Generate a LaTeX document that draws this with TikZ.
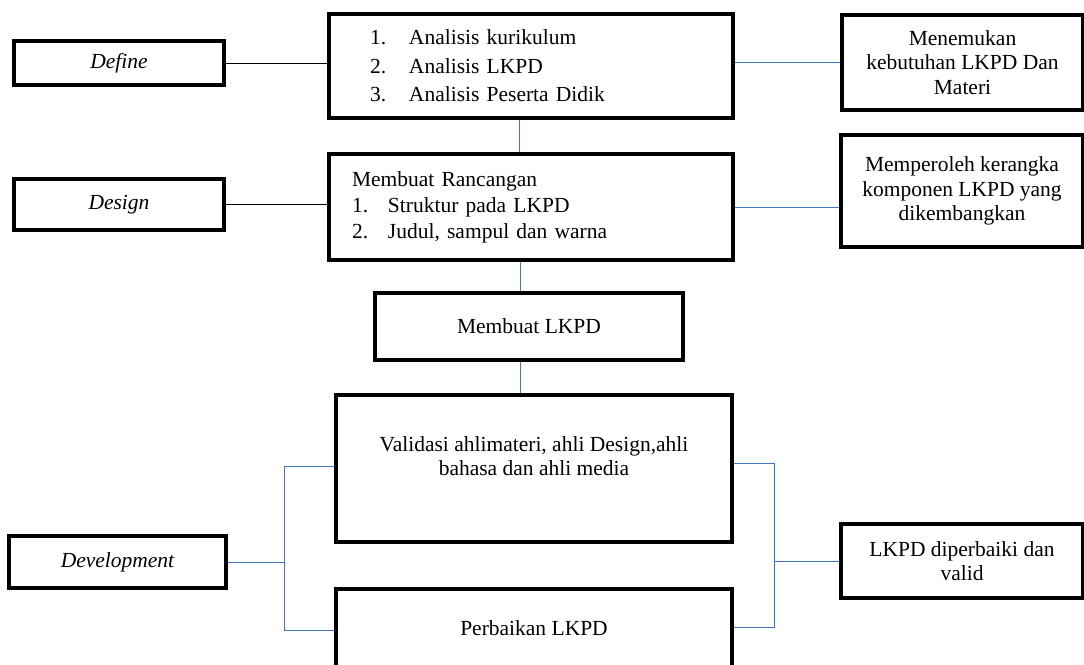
\documentclass[tikz,border=0pt]{standalone}
\usepackage{fontspec}
\setmainfont{Liberation Serif}
\usetikzlibrary{positioning}
\definecolor{linkblue}{HTML}{4472C4}

\begin{document}
\begin{tikzpicture}[x=1pt, y=-1pt,
  box/.style={draw, line width=3.2pt, align=center, inner sep=2pt, font=\fontsize{21.5}{24.5}\selectfont},
  stage/.style={box, font=\fontsize{21.5}{24.5}\selectfont\itshape},
  blueline/.style={line width=0.9pt, linkblue},
  blackline/.style={line width=0.9pt, black}]

%% Frame of the page
\clip (0, 0) rectangle (1084, 664);

%% Stages (left column)
\node [stage, minimum width=210pt, minimum height=44pt] (define) at (119, 63) {Define};
\node [stage, minimum width=210pt, minimum height=51pt] (design) at (119, 204.5) {Design};
\node [stage, minimum width=217pt, minimum height=52pt] (develop) at (117.5, 562) {Development};

%% Activities (middle column)
\node [box, align=left, text width=322pt, inner xsep=41pt, minimum height=104pt,
       font=\fontsize{21.5}{28.5}\selectfont] (analisis) at (531, 66)
  {\makebox[39pt][l]{1.}Analisis kurikulum\\
   \makebox[39pt][l]{2.}Analisis LKPD\\
   \makebox[39pt][l]{3.}Analisis Peserta Didik};
\node [box, align=left, text width=358pt, inner xsep=23pt, minimum height=106pt,
       font=\fontsize{21.5}{26}\selectfont] (rancangan) at (531, 207)
  {Membuat Rancangan\\
   \makebox[36pt][l]{1.}Struktur pada LKPD\\
   \makebox[36pt][l]{2.}Judul, sampul dan warna};
\node [box, minimum width=308pt, minimum height=67pt] (buatlkpd) at (529, 326.5) {Membuat LKPD};
\node [box, minimum width=396pt, minimum height=147pt] (validasi) at (534, 468.5)
  {Validasi ahlimateri, ahli Design,ahli\\bahasa dan ahli media\\~};
\node [box, minimum width=396pt, minimum height=79pt] (perbaikan) at (534, 628.5) {Perbaikan LKPD};

%% Results (right column)
\node [box, minimum width=241pt, minimum height=95pt] (temukan) at (962.5, 62.5)
  {Menemukan\\kebutuhan LKPD Dan\\Materi};
\node [box, minimum width=242pt, minimum height=112pt] (peroleh) at (962, 191)
  {Memperoleh kerangka\\komponen LKPD yang\\dikembangkan};
\node [box, minimum width=242pt, minimum height=74pt] (lkpdvalid) at (962, 561)
  {LKPD diperbaiki dan\\valid};

%% Helper coordinates
% spineA / spineB = vertical links of the middle column
% lbr / rbr = left and right brackets (T = top, B = bottom)
\coordinate (spineA) at (519, 0);
\coordinate (spineB) at (520, 0);
\coordinate (lbrT) at (284, 466);
\coordinate (lbrB) at (284, 630);
\coordinate (rbrT) at (774, 463);
\coordinate (rbrB) at (774, 627);

%% Connectors
\draw [blackline] (define.east) -- (define.east -| analisis.west);
\draw [blackline] (design.east) -- (design.east -| rancangan.west);

\draw [blueline] (temukan.west -| analisis.east) -- (temukan.west);
\draw [blueline] (rancangan.east) -- (rancangan.east -| peroleh.west);

\draw [blueline] (analisis.south -| spineA) -- (rancangan.north -| spineA);
\draw [blueline] (rancangan.south -| spineB) -- (buatlkpd.north -| spineB);
\draw [blueline] (buatlkpd.south -| spineB) -- (validasi.north -| spineB);

\draw [blueline] (develop.east) -- (develop.east -| lbrT);
\draw [blueline] (validasi.west |- lbrT) -- (lbrT) -- (lbrB) -- (perbaikan.west |- lbrB);

\draw [blueline] (validasi.east |- rbrT) -- (rbrT) -- (rbrB) -- (perbaikan.east |- rbrB);
\draw [blueline] (lkpdvalid.west) -- (lkpdvalid.west -| rbrT);

\end{tikzpicture}
\end{document}
